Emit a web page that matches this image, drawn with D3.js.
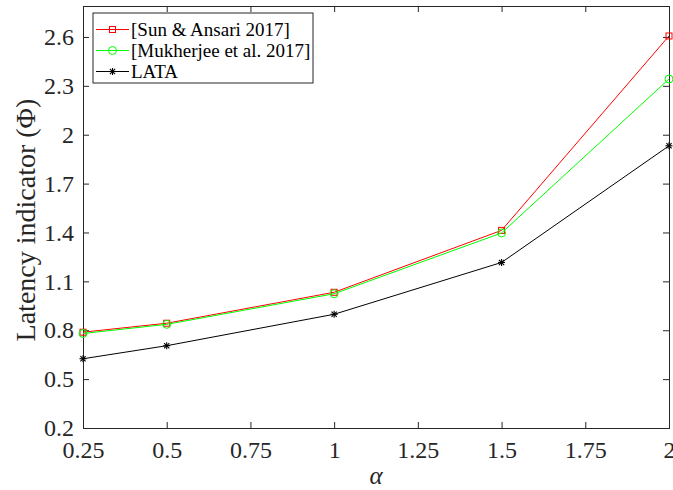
<!DOCTYPE html>
<html>
<head>
<meta charset="utf-8">
<script src="https://cdn.jsdelivr.net/npm/d3@7"></script>
</head>
<body style="margin:0">
<svg id="chart" width="673" height="490"></svg>
<script>
// Latency indicator versus alpha for three schemes
const alphaValues = [0.25, 0.5, 1, 1.5, 2];
const sunAnsari = [0.788, 0.843, 1.033, 1.413, 2.606];
const mukherjee = [0.780, 0.836, 1.024, 1.397, 2.342];
const lata = [0.625, 0.705, 0.898, 1.216, 1.932];
const xTicks = [0.25, 0.5, 0.75, 1, 1.25, 1.5, 1.75, 2];
const yTicks = [0.2, 0.5, 0.8, 1.1, 1.4, 1.7, 2, 2.3, 2.6];
const seriesNames = ["[Sun & Ansari 2017]", "[Mukherjee et al. 2017]", "LATA"];

const FONT = '"Liberation Serif"';
const svg = d3.select("#chart");
const margin = { left: 83, right: 4, top: 6, bottom: 62 };
const W = 673, H = 490;
const x = d3.scaleLinear().domain([0.25, 2]).range([margin.left, W - margin.right]);
const y = d3.scaleLinear().domain([0.2, 2.79]).range([H - margin.bottom, margin.top]);
const axisColor = "#262626";
const tickFont = 24;

// Axes box with inward ticks on all four sides
const gx = svg.append("g").attr("transform", `translate(0,${y.range()[0]})`)
  .call(d3.axisBottom(x).tickValues(xTicks).tickSize(-6).tickPadding(13).tickFormat(d3.format("")));
const gxTop = svg.append("g").attr("transform", `translate(0,${y.range()[1]})`)
  .call(d3.axisTop(x).tickValues(xTicks).tickSize(-6).tickFormat(""));
const gy = svg.append("g").attr("transform", `translate(${x.range()[0]},0)`)
  .call(d3.axisLeft(y).tickValues(yTicks).tickSize(-6).tickPadding(9).tickFormat(d3.format("")));
const gyRight = svg.append("g").attr("transform", `translate(${x.range()[1]},0)`)
  .call(d3.axisRight(y).tickValues(yTicks).tickSize(-6).tickFormat(""));

[gx, gxTop, gy, gyRight].forEach(g => {
  g.attr("font-family", FONT).attr("font-size", tickFont);
  g.select(".domain").attr("stroke", axisColor).attr("stroke-width", 1);
  g.selectAll(".tick line").attr("stroke", axisColor);
  g.selectAll(".tick text").attr("fill", axisColor)
    .attr("font-family", FONT).attr("font-size", tickFont);
});

// Axis labels
svg.append("text")
  .attr("x", (x.range()[0] + x.range()[1]) / 2)
  .attr("y", 484)
  .attr("text-anchor", "middle")
  .attr("fill", axisColor)
  .attr("font-family", FONT)
  .attr("font-size", 25)
  .attr("font-style", "italic")
  .text("α");

svg.append("text")
  .attr("transform", `translate(35,${(y.range()[0] + y.range()[1]) / 2 + 3}) rotate(-90)`)
  .attr("text-anchor", "middle")
  .attr("fill", axisColor)
  .attr("font-family", FONT)
  .attr("font-size", 28)
  .text("Latency indicator (Φ)");

// Series
const series = [
  { name: seriesNames[0], values: sunAnsari, color: "#ff0000", marker: "square" },
  { name: seriesNames[1], values: mukherjee, color: "#00ff00", marker: "circle" },
  { name: seriesNames[2], values: lata, color: "#000000", marker: "star" }
];

const line = d3.line().x((d, i) => x(alphaValues[i])).y(d => y(d));

function drawMarker(g, type, color) {
  if (type === "square") {
    g.append("rect").attr("x", -3).attr("y", -3).attr("width", 6).attr("height", 6)
      .attr("fill", "none").attr("stroke", color).attr("stroke-width", 1);
  } else if (type === "circle") {
    g.append("circle").attr("r", 4).attr("fill", "none").attr("stroke", color).attr("stroke-width", 1);
  } else {
    // asterisk: plus overlaid with a cross
    const r = 3.5, d = 2.6;
    const segs = [[-r, 0, r, 0], [0, -r, 0, r], [-d, -d, d, d], [-d, d, d, -d]];
    segs.forEach(s => g.append("line")
      .attr("x1", s[0]).attr("y1", s[1]).attr("x2", s[2]).attr("y2", s[3])
      .attr("stroke", color).attr("stroke-width", 1.1));
  }
}

series.forEach(s => {
  svg.append("path").datum(s.values).attr("d", line)
    .attr("fill", "none").attr("stroke", s.color).attr("stroke-width", 1);
  s.values.forEach((v, i) => {
    const g = svg.append("g").attr("transform", `translate(${x(alphaValues[i])},${y(v)})`);
    drawMarker(g, s.marker, s.color);
  });
});

// Legend
const legend = svg.append("g").attr("transform", "translate(93,13)");
legend.append("rect").attr("x", 0).attr("y", 0).attr("width", 220).attr("height", 70)
  .attr("fill", "#fff").attr("stroke", axisColor).attr("stroke-width", 1);
series.forEach((s, i) => {
  const cy = 16.5 + i * 21;
  legend.append("line").attr("x1", 3).attr("x2", 36).attr("y1", cy).attr("y2", cy)
    .attr("stroke", s.color).attr("stroke-width", 1);
  const g = legend.append("g").attr("transform", `translate(19.5,${cy})`);
  drawMarker(g, s.marker, s.color);
  legend.append("text").attr("x", 38).attr("y", cy).attr("dy", "0.35em")
    .attr("fill", "#000").attr("font-family", FONT).attr("font-size", 19).text(s.name);
});
</script>
</body>
</html>
